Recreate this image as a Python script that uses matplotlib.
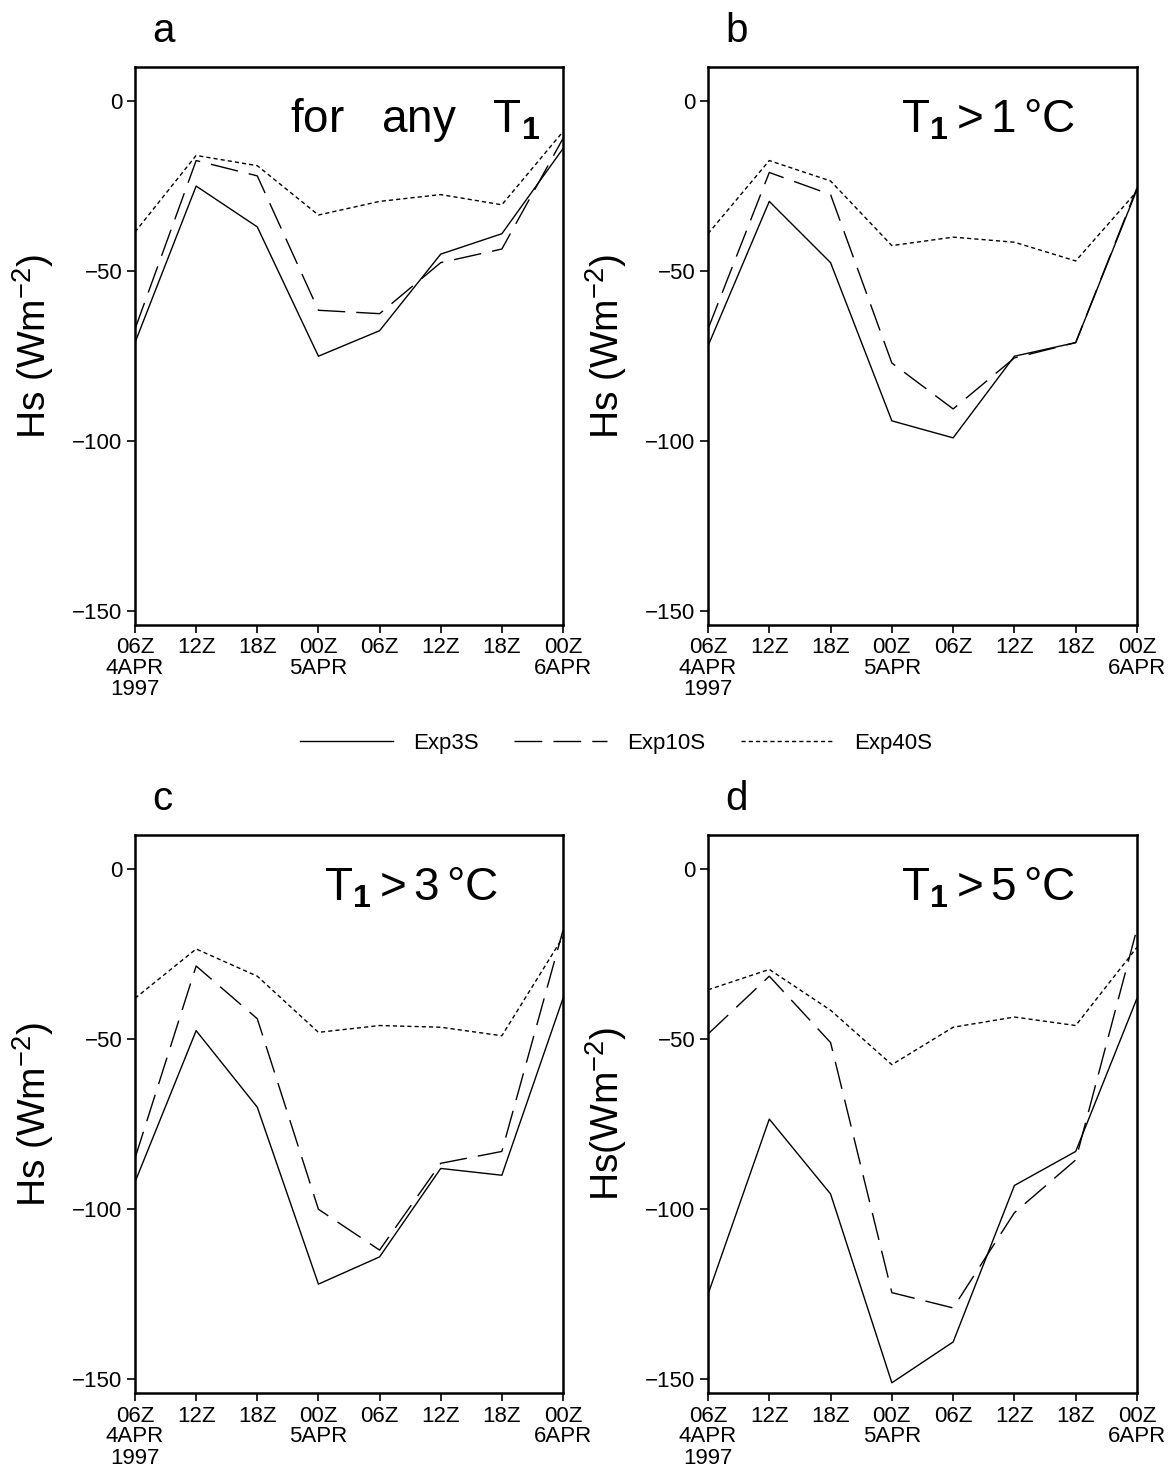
import numpy as np
import matplotlib
matplotlib.use('Agg')
import matplotlib.pyplot as plt

plt.rcParams['font.family'] = ['Liberation Sans Narrow', 'Liberation Sans', 'DejaVu Sans']
plt.rcParams['mathtext.fontset'] = 'custom'
plt.rcParams['mathtext.rm'] = 'Liberation Sans'
plt.rcParams['mathtext.bf'] = 'Liberation Sans:bold'

# hours since 00Z 4 Apr 1997
hours = [6, 12, 18, 24, 30, 36, 42, 48]
xlabels = ['06Z\n4APR\n1997', '12Z', '18Z', '00Z\n5APR', '06Z', '12Z', '18Z', '00Z\n6APR']
series_names = ['Exp3S', 'Exp10S', 'Exp40S']

# panel a: for any T1
a_exp3 = [-71, -25, -37, -75, -67.5, -45, -39, -14]
a_exp10 = [-67, -17.5, -22, -61.5, -62.5, -47.5, -43.5, -11]
a_exp40 = [-38.5, -16, -19, -33.5, -29.5, -27.5, -30.5, -9]
# panel b: T1 > 1C
b_exp3 = [-72, -29.5, -47.5, -94, -99, -75, -71, -26]
b_exp10 = [-67, -21, -27.5, -77, -90.5, -75.5, -71, -25.5]
b_exp40 = [-39, -17.5, -23.5, -42.5, -40, -41.5, -47, -26.5]
# panel c: T1 > 3C
c_exp3 = [-92, -47.5, -70, -122, -114, -88, -90, -38]
c_exp10 = [-85, -28.5, -44, -100, -112, -86.5, -83, -18]
c_exp40 = [-38, -23.5, -31.5, -48, -46, -46.5, -49, -20]
# panel d: T1 > 5C
d_exp3 = [-125, -73.5, -95.5, -151, -139, -93, -83, -38]
d_exp10 = [-48.5, -31.5, -51, -124.5, -129, -101, -85.5, -17.5]
d_exp40 = [-35.5, -29.5, -41.5, -57.5, -46.5, -43.5, -46, -23]

panel_data = [(a_exp3, a_exp10, a_exp40), (b_exp3, b_exp10, b_exp40),
              (c_exp3, c_exp10, c_exp40), (d_exp3, d_exp10, d_exp40)]
panel_letters = ['a', 'b', 'c', 'd']
panel_notes = [r'for$\;\;$ any$\;\;$ T$_\mathbf{1}$', r'T$_\mathbf{1}$$\,$>$\,$1$\,$°C',
               r'T$_\mathbf{1}$$\,$>$\,$3$\,$°C', r'T$_\mathbf{1}$$\,$>$\,$5$\,$°C']
note_x = [0.946, 0.855, 0.847, 0.855]
ylabels = ['Hs (Wm$^{-2}$)', 'Hs (Wm$^{-2}$)', 'Hs (Wm$^{-2}$)', 'Hs(Wm$^{-2}$)']

W, H = 1174, 1471
fig = plt.figure(figsize=(W/100, H/100), dpi=100)

# axes boxes in pixels: left, top, right, bottom
boxes = [(135, 67, 563, 625), (708, 67, 1137, 625),
         (135, 835, 563, 1393), (708, 835, 1137, 1393)]

styles = [dict(linestyle='-'), dict(dashes=(20, 8)), dict(dashes=(3, 2.2))]
wide = ['Liberation Sans', 'DejaVu Sans']

lines = []
for i, (l, t, r, b) in enumerate(boxes):
    ax = fig.add_axes([l/W, 1 - b/H, (r-l)/W, (b-t)/H])
    lines = []
    for vals, st in zip(panel_data[i], styles):
        ln, = ax.plot(hours, vals, color='black', lw=1.0, **st)
        lines.append(ln)
    ax.set_xlim(6, 48)
    ax.set_ylim(-154, 10)
    ax.set_yticks([0, -50, -100, -150])
    ax.set_yticklabels(['0', '\u221250', '\u2212100', '\u2212150'])
    ax.set_xticks(hours)
    ax.set_xticklabels(xlabels, linespacing=1.0)
    ax.tick_params(direction='out', length=6, width=1.2, labelsize=16, pad=3)
    for s in ax.spines.values():
        s.set_linewidth(1.8)
    ax.set_ylabel(ylabels[i], fontsize=28, family=wide, labelpad=12)
    ax.text(0.04, 1.045, panel_letters[i], transform=ax.transAxes, fontsize=29,
            family=wide, va='baseline')
    ax.text(note_x[i], 0.905, panel_notes[i], transform=ax.transAxes, fontsize=33,
            family=wide, ha='right', va='center')

fig.legend(lines, series_names, loc='center', bbox_to_anchor=(616/W, 1 - 743/H), ncol=3,
           frameon=False, fontsize=16, handlelength=4.2, handletextpad=0.9, columnspacing=1.6)

fig.savefig('out.png', dpi=100)
